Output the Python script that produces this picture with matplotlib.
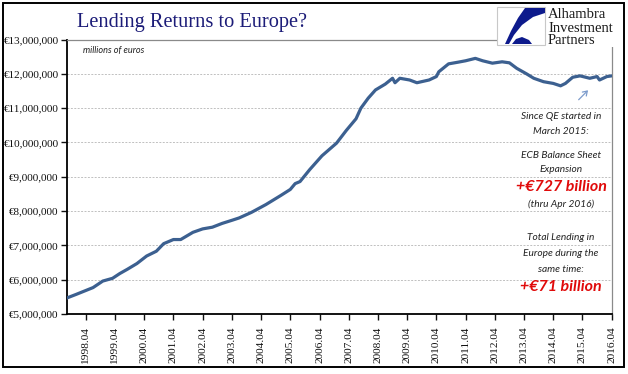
import matplotlib
matplotlib.use("Agg")
import matplotlib.pyplot as plt
from matplotlib.patches import Rectangle, Polygon, FancyArrowPatch
from matplotlib.ticker import FuncFormatter, FixedLocator

# ---- data (millions of euros) ----
dates = ['1997-08', '1997-12', '1998-07', '1998-11', '1999-03', '1999-06', '1999-09',
         '2000-01', '2000-05', '2000-09', '2000-12', '2001-04', '2001-07', '2001-12',
         '2002-04', '2002-08', '2002-12', '2003-04', '2003-07', '2003-12', '2004-06',
         '2004-12', '2005-04', '2005-06', '2005-08', '2005-12', '2006-05', '2006-11',
         '2007-03', '2007-07', '2007-09', '2007-12', '2008-03', '2008-07', '2008-10',
         '2008-11', '2009-01', '2009-05', '2009-08', '2010-01', '2010-04', '2010-05',
         '2010-09', '2011-01', '2011-04', '2011-08', '2011-11', '2012-03', '2012-07',
         '2012-10', '2013-01', '2013-05', '2013-08', '2013-12', '2014-04', '2014-07',
         '2014-09', '2014-12', '2015-03', '2015-07', '2015-10', '2015-11', '2016-02',
         '2016-04']
lending = [5460000, 5570000, 5770000, 5960000, 6040000, 6180000, 6300000,
           6470000, 6690000, 6830000, 7050000, 7170000, 7170000, 7380000,
           7480000, 7530000, 7640000, 7730000, 7800000, 7960000, 8190000,
           8450000, 8630000, 8800000, 8860000, 9210000, 9610000, 9980000,
           10350000, 10690000, 11000000, 11290000, 11530000, 11700000, 11870000,
           11740000, 11870000, 11820000, 11740000, 11820000, 11920000, 12060000,
           12290000, 12340000, 12380000, 12450000, 12380000, 12310000, 12350000,
           12320000, 12160000, 12000000, 11870000, 11770000, 11720000, 11650000,
           11720000, 11900000, 11940000, 11870000, 11920000, 11820000, 11920000,
           11940000]
tick_labels = ['1998.04', '1999.04', '2000.04', '2001.04', '2002.04', '2003.04',
               '2004.04', '2005.04', '2006.04', '2007.04', '2008.04', '2009.04',
               '2010.04', '2011.04', '2012.04', '2013.04', '2014.04', '2015.04',
               '2016.04']
y_ticks = [5e6, 6e6, 7e6, 8e6, 9e6, 10e6, 11e6, 12e6, 13e6]


def month_index(s):
    y, m = s.split('-')
    return (int(y) - 1998) * 12 + (int(m) - 4)


xs = [month_index(d) for d in dates]
tick_pos = [month_index(t.replace('.', '-')) for t in tick_labels]

W, H = 628, 374
fig = plt.figure(figsize=(W / 100, H / 100), dpi=100)
fig.patch.set_facecolor('white')

serif = ['Liberation Serif', 'DejaVu Serif']
ital = ['Lato', 'DejaVu Sans']

ax = fig.add_axes([67 / W, 1 - 314 / H, (611.7 - 67) / W, (314 - 39.5) / H])
ax.plot(xs, lending, color='#3c6090', lw=2.3, solid_capstyle='round', zorder=3)
ax.set_xlim(-7.7, 216)
ax.set_ylim(5e6, 13e6)
ax.yaxis.set_major_locator(FixedLocator(y_ticks))
ax.yaxis.set_major_formatter(FuncFormatter(lambda v, p: '€{:,.0f}'.format(v)))
ax.set_xticks(tick_pos)
ax.set_xticklabels(tick_labels, rotation=90, fontfamily=serif, fontsize=8.2, color='#111111')
for lab in ax.get_yticklabels():
    lab.set_fontfamily(serif)
    lab.set_fontsize(8)
    lab.set_color('#111111')
ax.tick_params(axis='y', length=4, width=1, pad=2, colors='#111111')
ax.tick_params(axis='x', length=4, width=1, pad=5, colors='#111111')
ax.grid(axis='y', color='#c0c0c0', lw=0.7, ls=(0, (2, 1.5)), zorder=1)
ax.spines['left'].set_linewidth(1.3)
ax.spines['bottom'].set_linewidth(1.3)
ax.spines['top'].set_color('#8a8a8a')
ax.spines['right'].set_color('#8a8a8a')
ax.spines['top'].set_linewidth(0.9)
ax.spines['right'].set_linewidth(0.9)

# title
fig.text(192 / W, 1 - 23 / H, 'Lending Returns to Europe?', fontfamily=serif,
         fontsize=14.7, color='#1c1c78', ha='center', va='center')
fig.text(83 / W, 1 - 50 / H, 'millions of euros', fontfamily=ital, style='italic',
         fontsize=6.6, color='#222222', ha='left', va='center')

# annotation text
cx = 561 / W
small = [('Since QE started in', 117), ('March 2015:', 131), ('ECB Balance Sheet', 156),
         ('Expansion', 169), ('(thru Apr 2016)', 204), ('Total Lending in', 238),
         ('Europe during the', 254), ('same time:', 269)]
for s, yy in small:
    fig.text(cx, 1 - yy / H, s, fontfamily=ital, style='italic', fontsize=7.3,
             color='#222222', ha='center', va='center')
for s, yy in [('+€727 billion', 187), ('+€71 billion', 287)]:
    fig.text(cx, 1 - yy / H, s, fontfamily=ital, style='italic', fontweight='bold',
             fontsize=11.5, color='#e00a0a', ha='center', va='center')

# arrow
fig.add_artist(FancyArrowPatch(
    (576.7 / W, 1 - 101.7 / H), (590 / W, 1 - 88.3 / H), transform=fig.transFigure,
    arrowstyle='->,head_length=3,head_width=2', color='#7d9ccc', lw=0.9, zorder=5))

# logo (white backing, square with swoosh, text)
def fp(pts):
    return [(x / W, 1 - y / H) for x, y in pts]

fig.add_artist(Rectangle((497 / W, 1 - 47 / H), (622 - 497) / W, (47 - 4) / H,
                         transform=fig.transFigure, facecolor='white', edgecolor='none', zorder=6))
fig.add_artist(Rectangle((497 / W, 1 - 45 / H), 48 / W, 38 / H, transform=fig.transFigure,
                         facecolor='white', edgecolor='#c8c8c8', lw=0.8, zorder=7))
fig.add_artist(Polygon(fp([(525, 8), (545, 8), (545, 13), (533, 17), (522, 25), (514, 35),
                           (509, 44), (505, 44), (511, 31), (518, 18)]),
                       closed=True, transform=fig.transFigure, facecolor='#0d1a8c',
                       edgecolor='none', zorder=8))
fig.add_artist(Polygon(fp([(512, 44), (532, 44), (529, 40), (522, 37), (516, 39)]),
                       closed=True, transform=fig.transFigure, facecolor='#0d1a8c',
                       edgecolor='none', zorder=8))
for s, yy in [('Alhambra', 14), ('Investment', 28), ('Partners', 41)]:
    fig.text(548 / W, 1 - yy / H, s, fontfamily=serif, fontsize=10.5, color='#1a1a1a',
             ha='left', va='center', zorder=9)

# outer border
fig.add_artist(Rectangle((3 / W, 1 - 367 / H), (624 - 3) / W, (367 - 3) / H,
                         transform=fig.transFigure, facecolor='none', edgecolor='black',
                         lw=1.4, zorder=10))

fig.savefig('out.png', dpi=100)
